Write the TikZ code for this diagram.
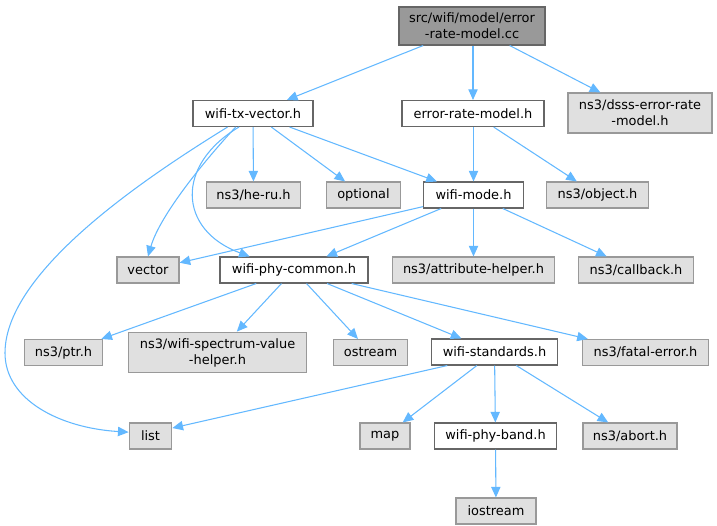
\documentclass[tikz,border=0pt]{standalone}
\usepackage{fontspec}
\setmainfont{DejaVu Sans}
\usepackage{xcolor}
\usetikzlibrary{arrows.meta,calc}
\definecolor{edgeblue}{HTML}{63B8FF}
\definecolor{hdrfill}{HTML}{E0E0E0}
\definecolor{hdrline}{HTML}{999999}
\definecolor{fileline}{HTML}{666666}
\definecolor{rootfill}{HTML}{999999}

\begin{document}
\begin{tikzpicture}[x=0.75pt, y=-0.75pt, >={Triangle[length=8pt,width=7pt]},
    box/.style={draw, rectangle, align=center, inner sep=0pt, minimum height=19.5pt,
        font=\fontsize{9.7}{12}\selectfont, line width=0.8pt},
    sysfile/.style={box, draw=hdrline, fill=hdrfill},
    wififile/.style={box, draw=fileline, fill=white},
    rootfile/.style={box, draw=fileline, fill=rootfill},
    dep/.style={->, draw=edgeblue, line width=0.8pt}]
    \useasboundingbox (0,0) rectangle (717,525);

    \node [rootfile, minimum width=109.5pt, minimum height=28.5pt] (root) at (472,26) {src/wifi/model/error\\-rate-model.cc};

    \node [wififile, minimum width=90pt] (txvector) at (253,113.5) {wifi-tx-vector.h};
    \node [wififile, minimum width=106.5pt] (ermodel) at (473,113.5) {error-rate-model.h};
    \node [sysfile, minimum width=108pt, minimum height=30pt] (dsss) at (640,113) {ns3/dsss-error-rate\\-model.h};

    \node [sysfile, minimum width=71pt] (heru) at (253.5,195) {ns3/he-ru.h};
    \node [sysfile, minimum width=56pt] (optional) at (363.5,195) {optional};
    \node [wififile, minimum width=75pt] (mode) at (473.5,195) {wifi-mode.h};
    \node [sysfile, minimum width=76.5pt] (object) at (597.5,195) {ns3/object.h};

    \node [sysfile, minimum width=46.5pt] (vector) at (148,270) {vector};
    \node [wififile, minimum width=111pt] (common) at (294,270) {wifi-phy-common.h};
    \node [sysfile, minimum width=122pt] (attrib) at (473.5,270) {ns3/attribute-helper.h};
    \node [sysfile, minimum width=86pt] (callback) at (636,270) {ns3/callback.h};

    \node [sysfile, minimum width=59pt] (ptr) at (63.5,352.5) {ns3/ptr.h};
    \node [sysfile, minimum width=134pt, minimum height=30.5pt] (spectrum) at (217.5,352.5) {ns3/wifi-spectrum-value\\-helper.h};
    \node [sysfile, minimum width=56pt] (ostream) at (370.5,352.5) {ostream};
    \node [wififile, minimum width=94.5pt] (standards) at (494.5,352) {wifi-standards.h};
    \node [sysfile, minimum width=94.5pt] (fatal) at (645.5,352.5) {ns3/fatal-error.h};

    \node [sysfile, minimum width=32pt] (list) at (150.5,436) {list};
    \node [sysfile, minimum width=37.5pt] (map) at (385,436) {map};
    \node [wififile, minimum width=92pt] (band) at (495.5,436) {wifi-phy-band.h};
    \node [sysfile, minimum width=70.5pt] (abort) at (630,436) {ns3/abort.h};

    \node [sysfile, minimum width=60pt] (iostream) at (496,511) {iostream};

    % edges of the root file
    \draw [dep] (root) -- (txvector);
    \draw [dep] (root.south -| ermodel) -- (ermodel);
    \draw [dep] (root) -- (dsss);

    % wifi-tx-vector.h
    \draw [dep] (txvector) -- (heru);
    \draw [dep] (txvector) -- (optional);
    \draw [dep] (txvector) -- (mode);
    \draw [dep] (txvector.218) .. controls (205,160) and (160,215) .. (vector.north);
    \draw [dep] (txvector.224) .. controls (175,165) and (178,230) .. (common.163);
    \draw [dep] (txvector.208) .. controls (150,175) and (5,270) .. (5,353)
        .. controls (5,400) and (60,428) .. (list.170);

    % error-rate-model.h
    \draw [dep] (ermodel.south -| mode) -- (mode);
    \draw [dep] (ermodel) -- (object);

    % wifi-mode.h
    \draw [dep] (mode) -- (vector);
    \draw [dep] (mode) -- (common);
    \draw [dep] (mode) -- (attrib);
    \draw [dep] (mode) -- (callback);

    % wifi-phy-common.h
    \draw [dep] (common) -- (ptr);
    \draw [dep] (common) -- (spectrum);
    \draw [dep] (common) -- (ostream);
    \draw [dep] (common) -- (standards);
    \draw [dep] (common) -- (fatal);

    % wifi-standards.h
    \draw [dep] (standards.196) -- (list.20);
    \draw [dep] (standards) -- (map);
    \draw [dep] (standards) -- (band);
    \draw [dep] (standards) -- (abort);

    \draw [dep] (band) -- (iostream);
\end{tikzpicture}
\end{document}
